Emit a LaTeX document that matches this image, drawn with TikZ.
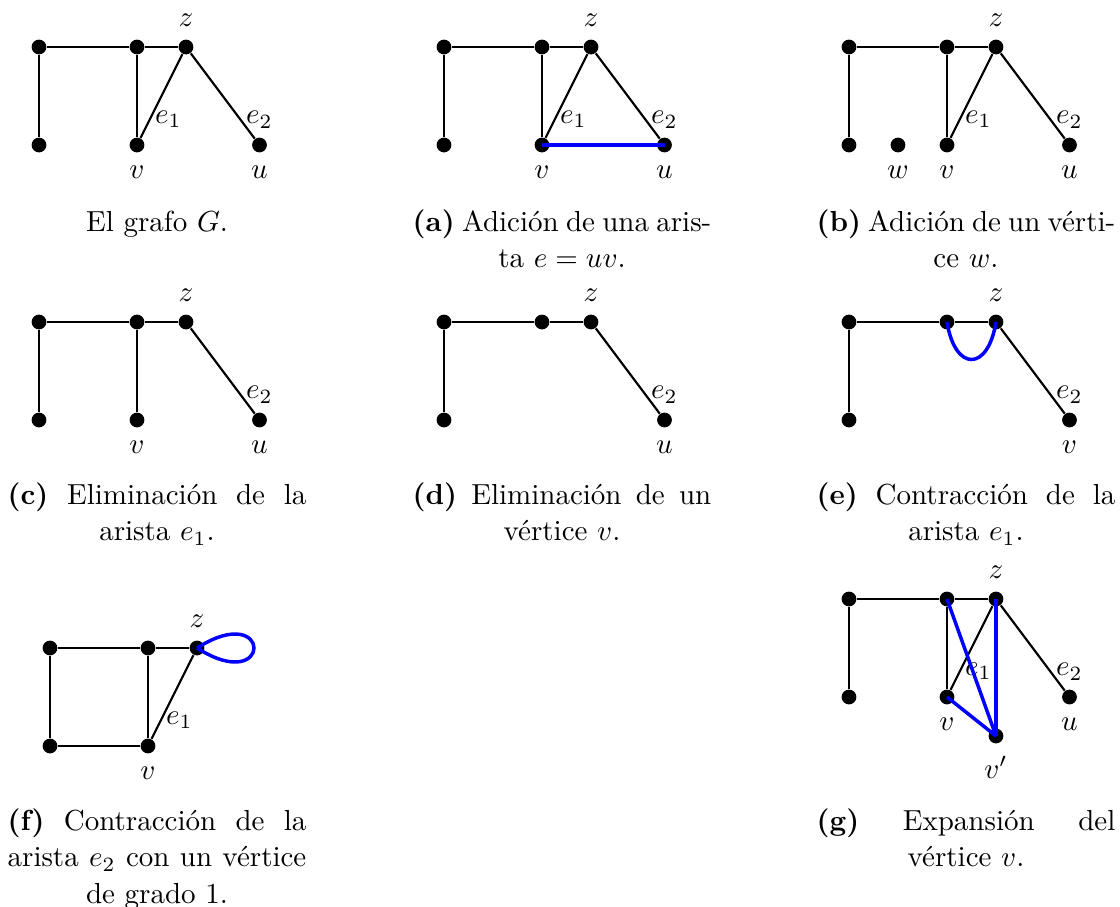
\documentclass[tikz,border=0pt]{standalone}
\newcommand{\jline}[1]{\leavevmode\hbox to 103pt{#1}}
\begin{document}
\begin{tikzpicture}[x=0.3448pt,y=-0.3448pt,label distance=0.8pt,
  vtx/.style={circle,fill=black,inner sep=0pt,minimum size=5.1pt},
  blackedge/.style={line width=0.75pt},
  bluedge/.style={blue,line width=1.2pt},
  elab/.style={anchor=west,inner sep=1.5pt,pos=0.78},
  captxt/.style={anchor=base,inner sep=0pt,text width=103pt,align=flush center,
    font=\fontsize{10}{12.7}\selectfont}]
\useasboundingbox (0,0) rectangle (1120,907);

% ---------- El grafo G ----------
\begin{scope}
\node[vtx] (gA) at (39,47) {};
\node[vtx] (gB) at (137,47) {};
\node[vtx,label=above:$z$] (gZ) at (186,47) {};
\node[vtx] (gC) at (39,145) {};
\node[vtx,label=below:$v$] (gV) at (137,145) {};
\node[vtx,label=below:$u$] (gU) at (259.5,145) {};
\draw[blackedge] (gA)--(gB) (gB)--(gZ) (gA)--(gC) (gB)--(gV);
\draw[blackedge] (gZ) -- node[elab]{$e_1$} (gV);
\draw[blackedge] (gZ) -- node[elab]{$e_2$} (gU);
\end{scope}
\node[captxt] (capG) at (157,231) {El grafo $G$.};

% ---------- (a) ----------
\begin{scope}[shift={(405,0)}]
\node[vtx] (aA) at (39,47) {};
\node[vtx] (aB) at (137,47) {};
\node[vtx,label=above:$z$] (aZ) at (186,47) {};
\node[vtx] (aC) at (39,145) {};
\node[vtx,label=below:$v$] (aV) at (137,145) {};
\node[vtx,label=below:$u$] (aU) at (259.5,145) {};
\draw[blackedge] (aA)--(aB) (aB)--(aZ) (aA)--(aC) (aB)--(aV);
\draw[blackedge] (aZ) -- node[elab]{$e_1$} (aV);
\draw[blackedge] (aZ) -- node[elab]{$e_2$} (aU);
\draw[bluedge] (aV.center) -- (aU.center);
\end{scope}
\node[captxt] (capA) at (562,231) {\jline{\textbf{(a)}\hfill Adición\hfill de\hfill una\hfill aris-}\\ ta $e=uv$.};

% ---------- (b) ----------
\begin{scope}[shift={(810,0)}]
\node[vtx] (bA) at (39,47) {};
\node[vtx] (bB) at (137,47) {};
\node[vtx,label=above:$z$] (bZ) at (186,47) {};
\node[vtx] (bC) at (39,145) {};
\node[vtx,label=below:$w$] (bW) at (88,145) {};
\node[vtx,label=below:$v$] (bV) at (137,145) {};
\node[vtx,label=below:$u$] (bU) at (259.5,145) {};
\draw[blackedge] (bA)--(bB) (bB)--(bZ) (bA)--(bC) (bB)--(bV);
\draw[blackedge] (bZ) -- node[elab]{$e_1$} (bV);
\draw[blackedge] (bZ) -- node[elab]{$e_2$} (bU);
\end{scope}
\node[captxt] (capB) at (966,231) {\jline{\textbf{(b)}\hfill Adición\hfill de\hfill un\hfill vérti-}\\ ce $w$.};

% ---------- (c) ----------
\begin{scope}[shift={(0,275)}]
\node[vtx] (cA) at (39,47) {};
\node[vtx] (cB) at (137,47) {};
\node[vtx,label=above:$z$] (cZ) at (186,47) {};
\node[vtx] (cC) at (39,145) {};
\node[vtx,label=below:$v$] (cV) at (137,145) {};
\node[vtx,label=below:$u$] (cU) at (259.5,145) {};
\draw[blackedge] (cA)--(cB) (cB)--(cZ) (cA)--(cC) (cB)--(cV);
\draw[blackedge] (cZ) -- node[elab]{$e_2$} (cU);
\end{scope}
\node[captxt] (capC) at (157,504) {\jline{\textbf{(c)}\hfill Eliminación\hfill de\hfill la}\\ arista $e_1$.};

% ---------- (d) ----------
\begin{scope}[shift={(405,275)}]
\node[vtx] (dA) at (39,47) {};
\node[vtx] (dB) at (137,47) {};
\node[vtx,label=above:$z$] (dZ) at (186,47) {};
\node[vtx] (dC) at (39,145) {};
\node[vtx,label=below:$u$] (dU) at (259.5,145) {};
\draw[blackedge] (dA)--(dB) (dB)--(dZ) (dA)--(dC);
\draw[blackedge] (dZ) -- node[elab]{$e_2$} (dU);
\end{scope}
\node[captxt] (capD) at (562,504) {\jline{\textbf{(d)}\hfill Eliminación\hfill de\hfill un}\\ vértice $v$.};

% ---------- (e) ----------
\begin{scope}[shift={(810,275)}]
\node[vtx] (eA) at (39,47) {};
\node[vtx] (eB) at (137,47) {};
\node[vtx,label=above:$z$] (eZ) at (186,47) {};
\node[vtx] (eC) at (39,145) {};
\node[vtx,label=below:$v$] (eV) at (259.5,145) {};
\draw[blackedge] (eA)--(eB) (eB)--(eZ) (eA)--(eC);
\draw[blackedge] (eZ) -- node[elab]{$e_2$} (eV);
\draw[bluedge] (eB.center) .. controls +(8,50) and +(-8,50) .. (eZ.center);
\end{scope}
\node[captxt] (capE) at (966,504) {\jline{\textbf{(e)}\hfill Contracción\hfill de\hfill la}\\ arista $e_1$.};

% ---------- (f) ----------
\begin{scope}[shift={(11,601)}]
\node[vtx] (fA) at (39,47) {};
\node[vtx] (fB) at (137,47) {};
\node[vtx,label=above:$z$] (fZ) at (186,47) {};
\node[vtx] (fC) at (39,145) {};
\node[vtx,label=below:$v$] (fV) at (137,145) {};
\draw[blackedge] (fA)--(fB) (fB)--(fZ) (fA)--(fC) (fC)--(fV) (fB)--(fV);
\draw[blackedge] (fZ) -- node[elab]{$e_1$} (fV);
\draw[bluedge] (fZ.center) .. controls +(76,-48.5) and +(76,48.5) .. (fZ.center);
\end{scope}
\node[captxt] (capF) at (157,830) {\jline{\textbf{(f)}\hfill Contracción\hfill de\hfill la}\\ \jline{arista\hfill $e_2$\hfill con\hfill un\hfill vértice}\\ de grado 1.};

% ---------- (g) ----------
\begin{scope}[shift={(810,552)}]
\node[vtx] (hA) at (39,47) {};
\node[vtx] (hB) at (137,47) {};
\node[vtx,label=above:$z$] (hZ) at (186,47) {};
\node[vtx] (hC) at (39,145) {};
\node[vtx,label=below:$v$] (hV) at (137,145) {};
\node[vtx,label=below:$u$] (hU) at (259.5,145) {};
\node[vtx,label=below:$v'$] (hW) at (186,184) {};
\draw[blackedge] (hA)--(hB) (hB)--(hZ) (hA)--(hC) (hB)--(hV);
\draw[blackedge] (hZ) -- node[elab]{$e_1$} (hV);
\draw[blackedge] (hZ) -- node[elab]{$e_2$} (hU);
\draw[bluedge] (hB.center) -- (hW.center);
\draw[bluedge] (hZ.center) -- (hW.center);
\draw[bluedge] (hV.center) -- (hW.center);
\end{scope}
\node[captxt] (capH) at (966,830) {\jline{\textbf{(g)}\hfill Expansión\hfill del}\\ vértice $v$.};
\end{tikzpicture}
\end{document}
